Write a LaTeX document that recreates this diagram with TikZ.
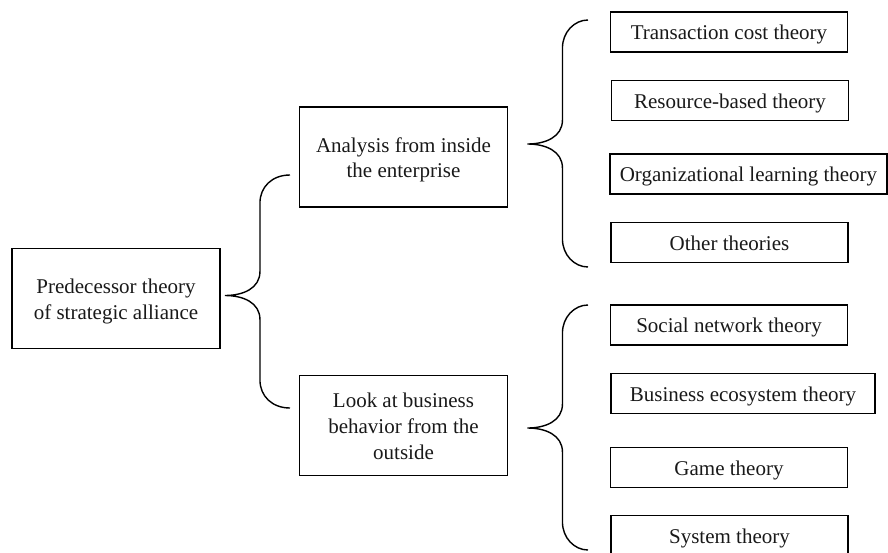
\documentclass[tikz,border=0pt]{standalone}
\usepackage{fontspec}
\setmainfont{Liberation Serif}
\usetikzlibrary{calc}

% fixed line struts so every box centres its lines the same way
\newcommand{\firststrut}{\rule{0pt}{21pt}}
\newcommand{\laststrut}{\rule[-5.2pt]{0pt}{5.2pt}}

% curly brace from a tip point to a top and a bottom end point
\newcommand{\curlybrace}[3]{%
  \draw[bracestroke] let \p1=(#1), \p2=(#2), \p3=(#3) in
    (\p2) .. controls (\x1+47pt,\y2) and (\x1+35pt,\y2-12pt) .. (\x1+35pt,\y2-28pt)
    -- (\x1+35pt,\y1+24pt) .. controls (\x1+35pt,\y1+7pt) and (\x1+18pt,\y1) .. (\p1)
    .. controls (\x1+18pt,\y1) and (\x1+35pt,\y1-7pt) .. (\x1+35pt,\y1-24pt)
    -- (\x1+35pt,\y3+28pt) .. controls (\x1+35pt,\y3+12pt) and (\x1+47pt,\y3) .. (\p3);
}

\tikzset{
  box/.style={draw=black, line width=1.9pt, inner sep=2pt, align=center,
    font=\fontsize{21}{25.7}\selectfont, text=black!90},
  bigbox/.style={box, minimum width=208pt, minimum height=100pt},
  leafbox/.style={box, minimum width=237pt, minimum height=40pt,
    text height=21pt, text depth=5.2pt},
  bracestroke/.style={draw=black, line width=1.4pt},
}

\begin{document}
\begin{tikzpicture}[x=1pt, y=-1pt]
  \useasboundingbox (0,0) rectangle (888,552);

  % root and the two viewpoints
  \node[bigbox] (root) at (116,298.5)
    {\firststrut Predecessor theory\\of strategic alliance\laststrut};
  \node[bigbox] (inside) at (403.5,157)
    {\firststrut Analysis from inside\\the enterprise\laststrut};
  \node[bigbox] (outside) at (403.5,425.5)
    {\firststrut Look at business\\behavior from the\\outside\laststrut};

  % theories seen from inside
  \node[leafbox] (tc) at (729,32) {Transaction cost theory};
  \node[leafbox] (rb) at (730,100.5) {Resource-based theory};
  \node[leafbox, minimum width=277pt] (ol) at (748.5,174) {Organizational learning theory};
  \node[leafbox] (ot) at (729.5,242.5) {Other theories};

  % theories seen from outside
  \node[leafbox] (sn) at (729,325) {Social network theory};
  \node[leafbox, minimum width=264pt] (be) at (743,393.5) {Business ecosystem theory};
  \node[leafbox] (gt) at (729,467.5) {Game theory};
  \node[leafbox] (st) at (729.5,535.5) {System theory};

  % brace end points
  \coordinate (b1tip) at ([xshift=4pt,yshift=3pt]root.east);
  \coordinate (b1top) at (290,175);
  \coordinate (b1bot) at (290,408);
  \coordinate (b2tip) at ([xshift=19pt,yshift=13pt]inside.east);
  \coordinate (b2top) at (588,20);
  \coordinate (b2bot) at (588,267);
  \coordinate (b3tip) at ([xshift=19pt,yshift=-2.5pt]outside.east);
  \coordinate (b3top) at (588,305);
  \coordinate (b3bot) at (588,550);

  \curlybrace{b1tip}{b1top}{b1bot}
  \curlybrace{b2tip}{b2top}{b2bot}
  \curlybrace{b3tip}{b3top}{b3bot}
\end{tikzpicture}
\end{document}
